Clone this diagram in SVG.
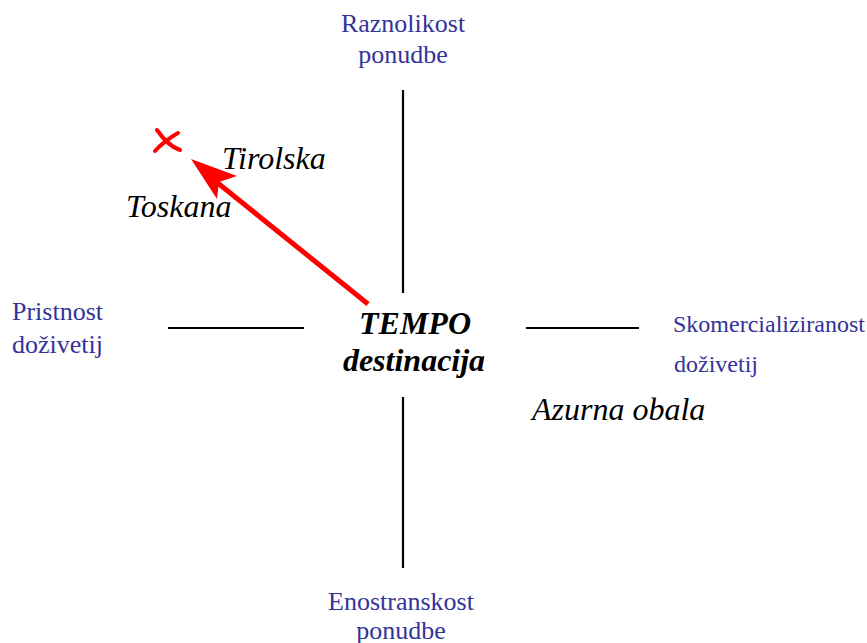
<svg xmlns="http://www.w3.org/2000/svg" width="867" height="643" viewBox="0 0 867 643">
<defs>
<style>
text{font-family:'Liberation Serif','Times New Roman',Times,serif}
.ax{stroke:#000;stroke-width:2.2;fill:none}
.lbl{font-size:26px;fill:#333399}
.it{font-style:italic;font-size:32px;fill:#000}
.bi{font-style:italic;font-weight:bold;font-size:32px;fill:#000}
</style>
</defs>
<rect width="867" height="643" fill="#fff"/>
<g id="connectors">
<line class="ax" x1="403" y1="90" x2="403" y2="293"/>
<line class="ax" x1="403" y1="397" x2="403" y2="568"/>
<line class="ax" x1="168" y1="328" x2="304" y2="328"/>
<line class="ax" x1="526" y1="328" x2="639" y2="328"/>
<line x1="368" y1="304" x2="214" y2="180" stroke="#ff0000" stroke-width="5"/>
<polygon points="191,159 237,176 219,182 217,199" fill="#ff0000"/>
</g>
<g id="n-top"><text class="lbl" x="403" y="32" text-anchor="middle">Raznolikost</text><text class="lbl" x="403" y="63" text-anchor="middle">ponudbe</text></g>
<g id="n-bottom"><text class="lbl" x="401" y="610" text-anchor="middle">Enostranskost</text><text class="lbl" x="401" y="639" text-anchor="middle">ponudbe</text></g>
<g id="n-left"><text class="lbl" x="12" y="320">Pristnost</text><text class="lbl" x="12" y="353">doživetij</text></g>
<g id="n-right"><text class="lbl" x="673" y="332" style="font-size:24px">Skomercializiranost</text><text class="lbl" x="674" y="372" style="font-size:24px">doživetij</text></g>
<g id="n-center"><text class="bi" x="415" y="334" text-anchor="middle">TEMPO</text><text class="bi" x="414" y="371" text-anchor="middle">destinacija</text></g>
<g id="n-tirolska"><text class="it" x="222" y="169">Tirolska</text></g>
<g id="n-toskana"><text class="it" x="126" y="217">Toskana</text></g>
<g id="n-azurna"><text class="it" x="532" y="420">Azurna obala</text></g>
<g id="n-mark" stroke="#ff0000" stroke-width="4" fill="none" stroke-linecap="round">
<path d="M157,130 Q168,146 180,150"/>
<path d="M178,133 Q164,141 155,151"/>
</g>
</svg>
